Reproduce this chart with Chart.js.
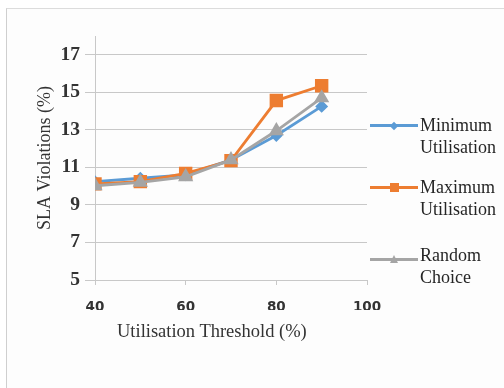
<!DOCTYPE html>
<html>
<head>
<meta charset="utf-8">
<script src="https://cdn.jsdelivr.net/npm/chart.js@4.4.1/dist/chart.umd.min.js"></script>
<style>
  html, body { margin: 0; padding: 0; background: #fff; }
  #wrap { position: relative; width: 504px; height: 388px; overflow: hidden; }
  #frame { position: absolute; left: 6px; top: 8px; right: -2px; bottom: -2px;
           border-left: 1px solid #cfcfcf; border-top: 1px solid #dcdcdc; background: #fdfdfd; }
  canvas { position: absolute; left: 0; top: 0; }
  .xtitle { position: absolute; left: 117px; top: 321px; font: 18.5px "Liberation Serif", serif; color: #333; white-space: nowrap; }
  .leg { position: absolute; left: 370px; width: 48px; height: 3px; }
  .legtext { position: absolute; left: 420px; font: 18px "Liberation Serif", serif; color: #262626; line-height: 22px; white-space: nowrap; }
  .mk { position: absolute; }
</style>
</head>
<body>
<div id="wrap">
  <div id="frame"></div>
  <canvas id="slaChart" width="504" height="388"></canvas>
  <div class="xtitle">Utilisation Threshold (%)</div>
  <div id="legend"></div>
</div>
<script>
// thresholds (%) on the x axis
const thresholds = [40, 50, 60, 70, 80, 90];

// SLA violations (%) per policy
const minUtilisation = [10.24, 10.42, 10.6, 11.4, 12.7, 14.25];
const maxUtilisation = [10.12, 10.24, 10.68, 11.36, 14.56, 15.35];
const randomChoice = [10.02, 10.2, 10.5, 11.4, 12.95, 14.7];

const seriesNames = [['Minimum', 'Utilisation'], ['Maximum', 'Utilisation'], ['Random', 'Choice']];
const seriesColors = ['#5b9bd5', '#ed7d31', '#a5a5a5'];

const yTicks = [5, 7, 9, 11, 13, 15, 17];
const xTicks = [40, 60, 80, 100];

const gridColor = '#c8c8c8';

function toPoints(values) {
    return thresholds.map((t, i) => ({ x: t, y: values[i] }));
}

const ctx = document.getElementById('slaChart').getContext('2d');

const slaChart = new Chart(ctx, {
    type: 'line',
    data: {
        datasets: [
            {
                label: seriesNames[0].join(' '),
                data: toPoints(minUtilisation),
                borderColor: seriesColors[0],
                backgroundColor: seriesColors[0],
                borderWidth: 2.8,
                pointStyle: 'rectRot',
                pointRadius: 4.5,
                order: 2
            },
            {
                label: seriesNames[1].join(' '),
                data: toPoints(maxUtilisation),
                borderColor: seriesColors[1],
                backgroundColor: seriesColors[1],
                borderWidth: 2.8,
                pointStyle: 'rect',
                pointRadius: 7.5,
                order: 1
            },
            {
                label: seriesNames[2].join(' '),
                data: toPoints(randomChoice),
                borderColor: seriesColors[2],
                backgroundColor: seriesColors[2],
                borderWidth: 2.8,
                pointStyle: 'triangle',
                pointRadius: 6,
                order: 0
            }
        ]
    },
    options: {
        responsive: false,
        animation: false,
        layout: { padding: { left: 0, top: 36, right: 137, bottom: 78 } },
        plugins: {
            legend: { display: false },
            tooltip: { enabled: false }
        },
        scales: {
            x: {
                type: 'linear',
                min: 40,
                max: 100,
                afterBuildTicks: scale => { scale.ticks = xTicks.map(v => ({ value: v })); },
                afterFit: scale => { scale.height = 30; },
                grid: { drawOnChartArea: false, drawTicks: true, tickLength: 5, color: gridColor },
                border: { display: true, color: gridColor },
                ticks: {
                    padding: 14,
                    color: '#333',
                    font: { family: '"DejaVu Sans", sans-serif', size: 13.5, weight: 'bold' }
                }
            },
            y: {
                min: 5,
                max: 18,
                afterBuildTicks: scale => { scale.ticks = yTicks.map(v => ({ value: v })); },
                afterFit: scale => { scale.width = 95; },
                grid: { color: gridColor, tickLength: 10 },
                border: { display: true, color: gridColor },
                ticks: {
                    padding: 5,
                    color: '#333',
                    font: { family: '"Liberation Serif", serif', size: 19.5, weight: 'bold' }
                },
                title: {
                    display: true,
                    text: 'SLA Violations (%)',
                    color: '#333',
                    padding: { top: 34, bottom: 0 },
                    font: { family: '"Liberation Serif", serif', size: 18 }
                }
            }
        }
    }
});

// legend drawn as html on the right, two-line labels like the original
const legendBox = document.getElementById('legend');
const legendLineY = [125, 187, 259];
const legendTextTop = [114, 176, 244];
seriesNames.forEach((name, i) => {
    const line = document.createElement('div');
    line.className = 'leg';
    line.style.top = (legendLineY[i] - 1) + 'px';
    line.style.background = seriesColors[i];
    legendBox.appendChild(line);

    const mk = document.createElement('div');
    mk.className = 'mk';
    const cx = 394;
    const cy = legendLineY[i] + 0.5;
    if (i === 0) {
        mk.style.cssText += `left:${cx - 3}px;top:${cy - 3}px;width:6px;height:6px;background:${seriesColors[0]};transform:rotate(45deg);`;
    } else if (i === 1) {
        mk.style.cssText += `left:${cx - 4.5}px;top:${cy - 4.5}px;width:9px;height:9px;background:${seriesColors[1]};`;
    } else {
        mk.style.cssText += `left:${cx - 4.5}px;top:${cy - 5}px;width:0;height:0;border-left:4.5px solid transparent;border-right:4.5px solid transparent;border-bottom:8px solid ${seriesColors[2]};`;
    }
    legendBox.appendChild(mk);

    const txt = document.createElement('div');
    txt.className = 'legtext';
    txt.style.top = legendTextTop[i] + 'px';
    txt.innerHTML = name.join('<br>');
    legendBox.appendChild(txt);
});
</script>
</body>
</html>
